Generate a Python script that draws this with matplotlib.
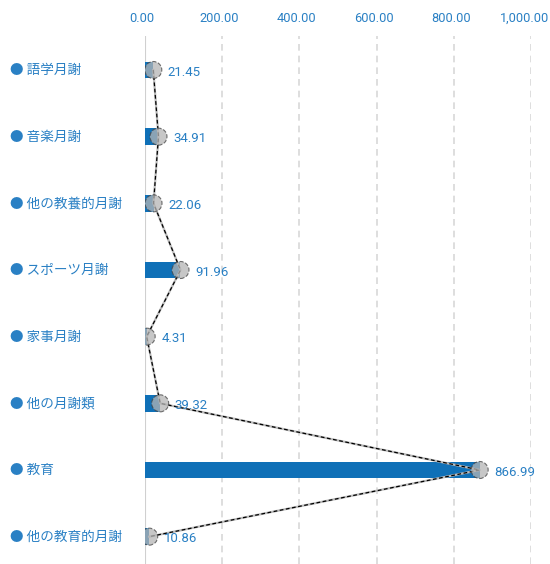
import matplotlib
matplotlib.use("Agg")
import matplotlib.pyplot as plt
import matplotlib.transforms as mtrans

categories = ["語学月謝", "音楽月謝", "他の教養的月謝", "スポーツ月謝", "家事月謝", "他の月謝類", "教育", "他の教育的月謝"]
values = [21.45, 34.91, 22.06, 91.96, 4.31, 39.32, 866.99, 10.86]
tick_values = [0, 200, 400, 600, 800, 1000]
tick_labels = ["0.00", "200.00", "400.00", "600.00", "800.00", "1,000.00"]

BAR = "#0f70b7"
TXT = "#2a80c4"

fig = plt.figure(figsize=(5.5, 5.64), dpi=100)
W, H = 550, 564
left, right, top, bottom = 145, 531, 36, 564
ax = fig.add_axes([left / W, 1 - bottom / H, (right - left) / W, (bottom - top) / H])

ypos = list(range(len(categories)))
ax.barh(ypos, values, height=0.25, color=BAR, zorder=2)
ax.plot(values, ypos, color="#bbbbbb", lw=1.6, zorder=3)
ax.plot(values, ypos, color="black", lw=0.9, linestyle=(0, (3, 2)), zorder=4)
ax.scatter(values, ypos, s=150, facecolor="#b5b5b5", alpha=0.75,
           edgecolor="#444444", linewidths=0.8, linestyle="--", zorder=5)

for v, y in zip(values, ypos):
    ax.annotate(f"{v:.2f}", (v, y), xytext=(10.5, -1.5), textcoords="offset points",
                va="center", ha="left", color=TXT, fontsize=9.5, family="Roboto", zorder=6)

ax.set_xlim(0, 1000)
ax.set_ylim(7.41, -0.51)
ax.set_xticks([])
ax.set_yticks([])
for s in ax.spines.values():
    s.set_visible(False)
for t in tick_values[1:]:
    ax.axvline(t, color="#d8d8d8", lw=1.2, linestyle=(0, (4, 3)), zorder=1)
ax.axvline(0, color="#d0d0d0", lw=1.5, zorder=1)

tr = mtrans.blended_transform_factory(ax.transData, fig.transFigure)
off = mtrans.ScaledTranslation(-3 / 100, 0, fig.dpi_scale_trans)
off_last = mtrans.ScaledTranslation(18 / 100, 0, fig.dpi_scale_trans)
for i, (t, lab) in enumerate(zip(tick_values, tick_labels)):
    last = i == len(tick_values) - 1
    ax.text(t, 1 - 18 / H, lab, transform=tr + (off_last if last else off),
            ha="right" if last else "center", va="center",
            color=TXT, fontsize=9.2, family="Roboto")

for y, c in zip(ypos, categories):
    ax.text(-135 / 0.386, y, "● " + c, transform=ax.transData, va="center", ha="left",
            color=TXT, fontsize=9.8, family=["Noto Sans CJK JP", "DejaVu Sans"])

fig.savefig("out.png", dpi=100)
